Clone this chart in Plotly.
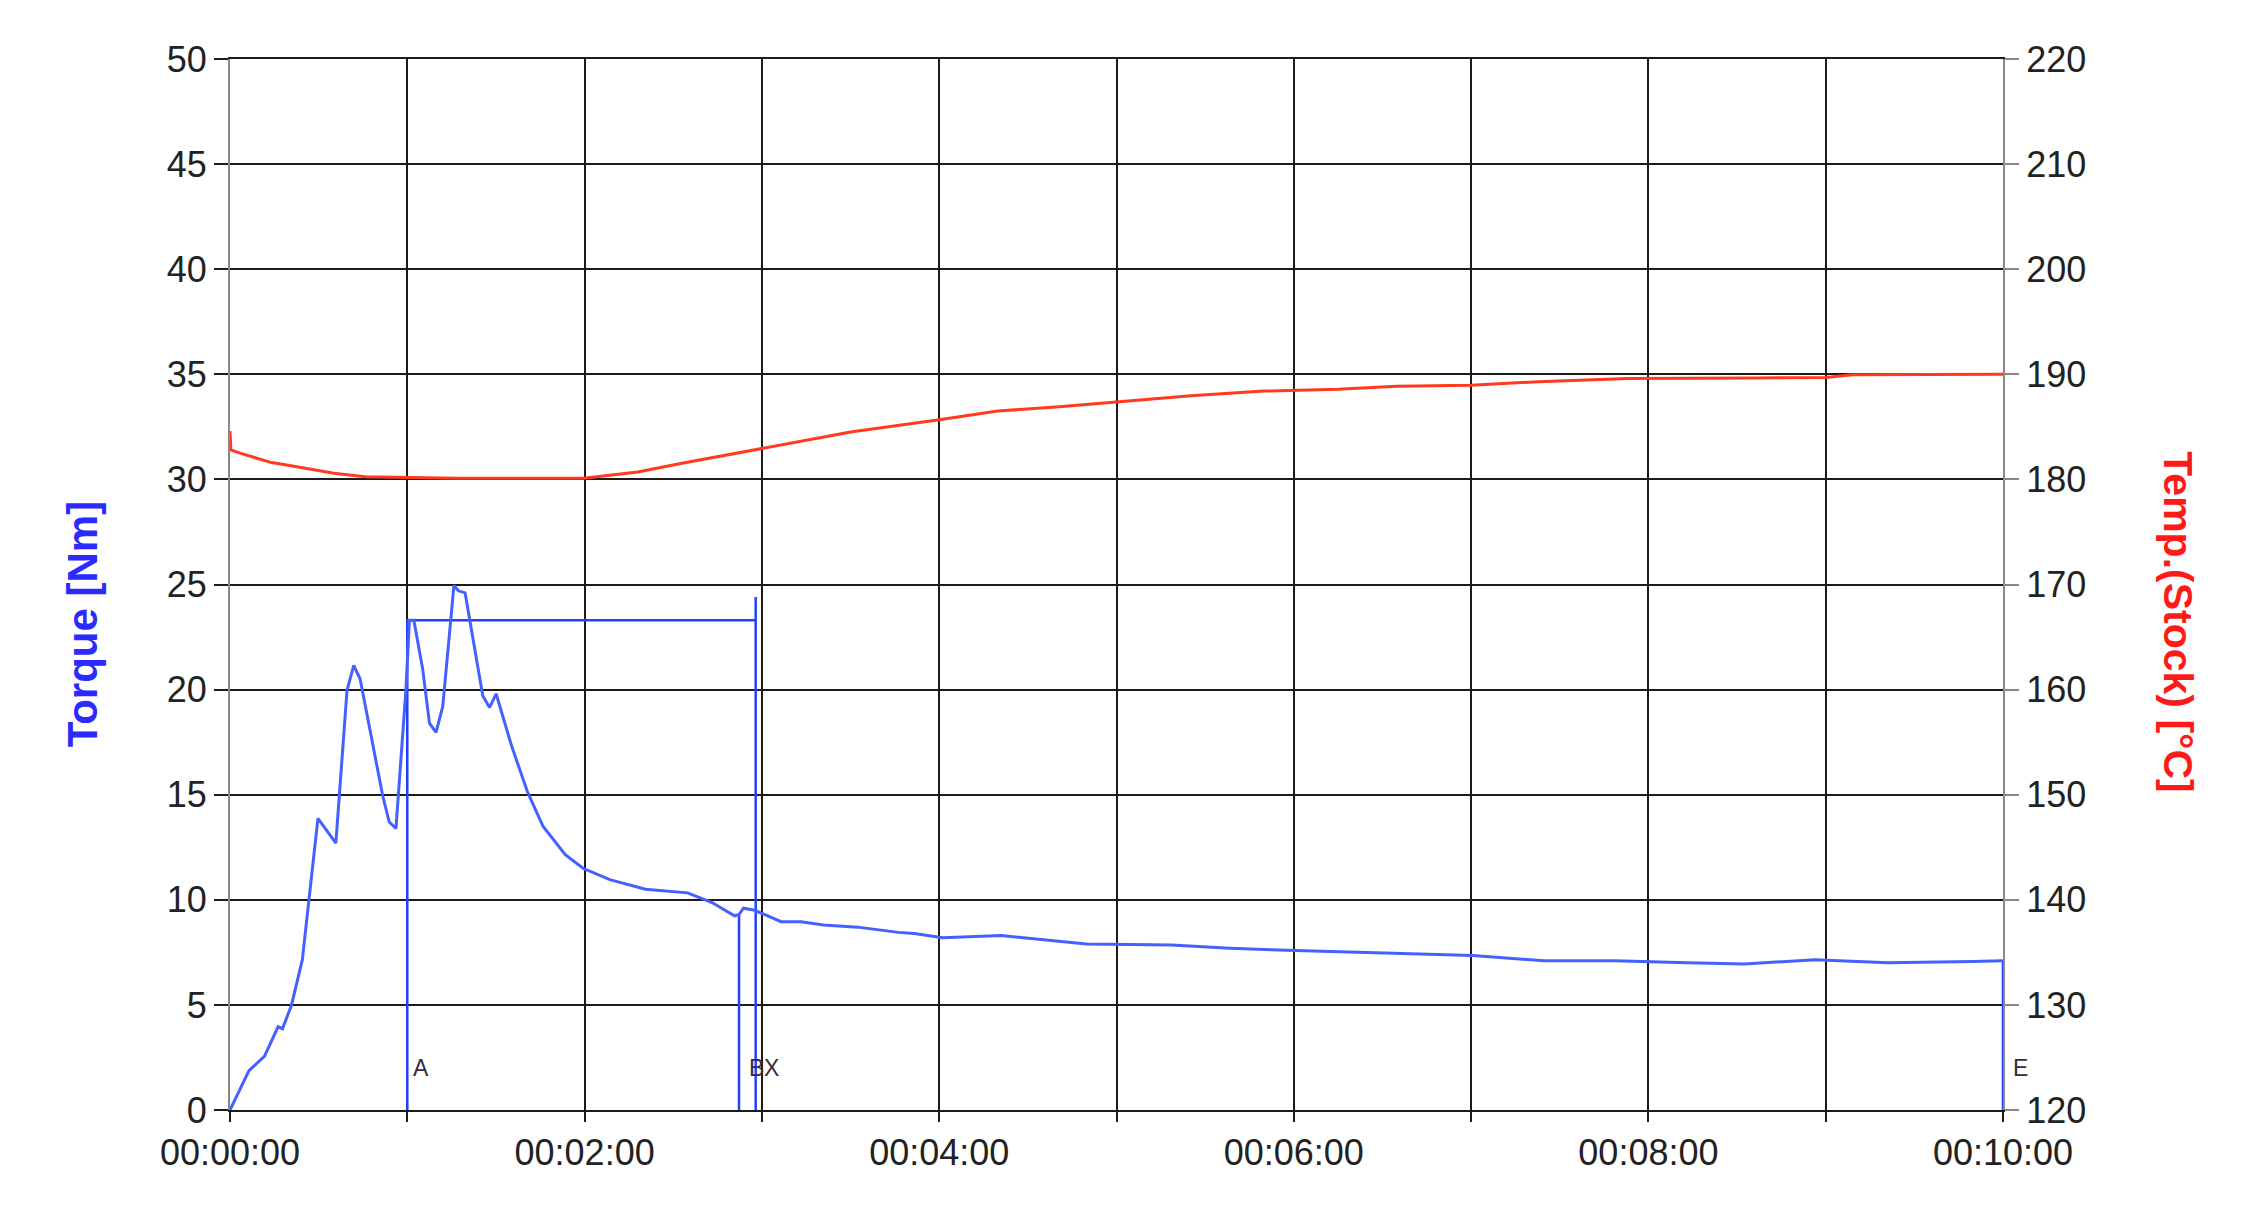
import plotly.graph_objects as go

# time in minutes
torque_t = [0, 0.107, 0.195, 0.271, 0.296, 0.346, 0.408, 0.446, 0.496, 0.597, 0.635, 0.66,
            0.698, 0.734, 0.861, 0.898, 0.936, 0.992, 1.012, 1.037, 1.087, 1.125, 1.162, 1.2,
            1.263, 1.288, 1.326, 1.363, 1.426, 1.464, 1.501, 1.589, 1.677, 1.765, 1.891, 1.991,
            2.142, 2.343, 2.47, 2.581, 2.719, 2.845, 2.871, 2.896, 2.96, 3.009, 3.108, 3.22,
            3.348, 3.54, 3.77, 3.86, 4.02, 4.35, 4.59, 4.83, 5.31, 5.64, 5.96, 6.44, 7.01,
            7.41, 7.81, 8.22, 8.54, 8.94, 9.35, 9.83, 10.0]
torque_nm = [0, 1.87, 2.56, 3.96, 3.87, 4.96, 7.15, 10.05, 13.87, 12.7, 17.1, 19.96,
             21.15, 20.5, 14.96, 13.7, 13.4, 19.96, 23.3, 23.3, 20.96, 18.4, 17.96, 19.2,
             24.96, 24.7, 24.6, 22.8, 19.7, 19.15, 19.8, 17.3, 15.15, 13.5, 12.15, 11.5,
             10.96, 10.5, 10.4, 10.33, 9.87, 9.24, 9.3, 9.6, 9.5, 9.33, 8.96, 8.95,
             8.8, 8.7, 8.45, 8.4, 8.2, 8.3, 8.1, 7.9, 7.85, 7.7, 7.6, 7.5, 7.35,
             7.1, 7.1, 7.0, 6.95, 7.15, 7.0, 7.07, 7.1]

temp_t = [0, 0.005, 0.056, 0.234, 0.32, 0.586, 0.762, 1.278, 1.995, 2.3, 2.549, 3.003,
          3.23, 3.5, 4.0, 4.33, 4.66, 5.0, 5.42, 5.83, 6.0, 6.25, 6.58, 7.0, 7.38, 7.88,
          8.6, 9.0, 9.15, 10.0]
temp_c = [184.6, 182.8, 182.5, 181.6, 181.37, 180.58, 180.26, 180.1, 180.1, 180.7, 181.53, 182.96,
          183.7, 184.5, 185.68, 186.5, 186.9, 187.4, 187.97, 188.4, 188.48, 188.58, 188.87, 188.97,
          189.3, 189.6, 189.65, 189.7, 189.95, 190.0]

# evaluation markers A, B, X, E
marker_names = ["A", "B", "X", "E"]
marker_times = [1.0, 2.871, 2.965, 10.0]
marker_tops = [23.3, 9.3, 24.4, 7.1]
hold_level = 23.3

x_ticks = [0, 1, 2, 3, 4, 5, 6, 7, 8, 9, 10]
x_ticktext = ["00:00:00", "", "00:02:00", "", "00:04:00", "", "00:06:00", "", "00:08:00", "", "00:10:00"]

BLUE = "#4461ff"
MARK = "#2140ff"
RED = "#ff3a1e"
GRID = "#1e1a1c"
FRAME = "#8e8688"
FONT = "Liberation Sans, Arial, sans-serif"

fig = go.Figure()

# marker lines
a_t, b_t, x_t, e_t = marker_times
a_top, b_top, x_top, e_top = marker_tops
mk_x = [a_t, a_t, x_t, None, x_t, x_t, None, b_t, b_t, None, e_t, e_t]
mk_y = [0, hold_level, hold_level, None, x_top, 0, None, 0, b_top, None, 0, e_top]
fig.add_trace(go.Scatter(x=mk_x, y=mk_y, mode="lines", line=dict(color=MARK, width=2.5),
                         showlegend=False, hoverinfo="skip"))

fig.add_trace(go.Scatter(x=torque_t, y=torque_nm, mode="lines", name="Torque",
                         line=dict(color=BLUE, width=3), showlegend=False))

fig.add_trace(go.Scatter(x=temp_t, y=temp_c, mode="lines", name="Temp.(Stock)",
                         line=dict(color=RED, width=3), yaxis="y2", showlegend=False))

# page body adds 8px, so the figure is a bit smaller than the window
fig.update_layout(
    width=2234, height=1209,
    margin=dict(l=222, r=239, t=51, b=107),
    plot_bgcolor="white", paper_bgcolor="white",
    font=dict(family=FONT, size=36, color="#222"),
    xaxis=dict(
        range=[0, 10], tickmode="array", tickvals=x_ticks, ticktext=x_ticktext,
        showgrid=True, gridcolor=GRID, gridwidth=2, zeroline=False,
        showline=True, linecolor=GRID, linewidth=2, mirror=True,
        ticks="outside", ticklen=10, tickwidth=2, tickcolor=GRID,
        layer="below traces",
    ),
    yaxis=dict(
        range=[0, 50], tickmode="array", tickvals=list(range(0, 51, 5)),
        showgrid=True, gridcolor=GRID, gridwidth=2, zeroline=False,
        showline=True, linecolor=FRAME, linewidth=2,
        ticks="outside", ticklen=14, tickwidth=2, tickcolor=GRID,
        layer="below traces",
    ),
    yaxis2=dict(
        range=[120, 220], tickmode="array", tickvals=list(range(120, 221, 10)),
        overlaying="y", side="right", showgrid=False, zeroline=False,
        showline=True, linecolor=FRAME, linewidth=2,
        ticks="outside", ticklen=14, tickwidth=2, tickcolor=FRAME,
        layer="below traces",
    ),
)

# axis titles
fig.add_annotation(text="<b>Torque [Nm]</b>", textangle=-90, xref="paper", yref="paper",
                   x=-0.0835, y=0.463, xanchor="center", yanchor="middle", showarrow=False,
                   font=dict(family=FONT, size=42, color="#2b2bff"))
fig.add_annotation(text="<b>Temp.(Stock) [°C]</b>", textangle=90, xref="paper", yref="paper",
                   x=1.0987, y=0.464, xanchor="center", yanchor="middle", showarrow=False,
                   font=dict(family=FONT, size=41, color="#ff1a1a"))

# marker labels
label_x = [a_t + 0.02, 2.916, 2.999, e_t]
label_shift = [0, 0, 0, 8]
for name, lx, sh in zip(marker_names, label_x, label_shift):
    fig.add_annotation(text=name, x=lx, y=2.0, xref="x", yref="y", xanchor="left",
                       xshift=sh, showarrow=False,
                       font=dict(family=FONT, size=23, color="#3a2a3a"))

fig.write_html("out.html")
